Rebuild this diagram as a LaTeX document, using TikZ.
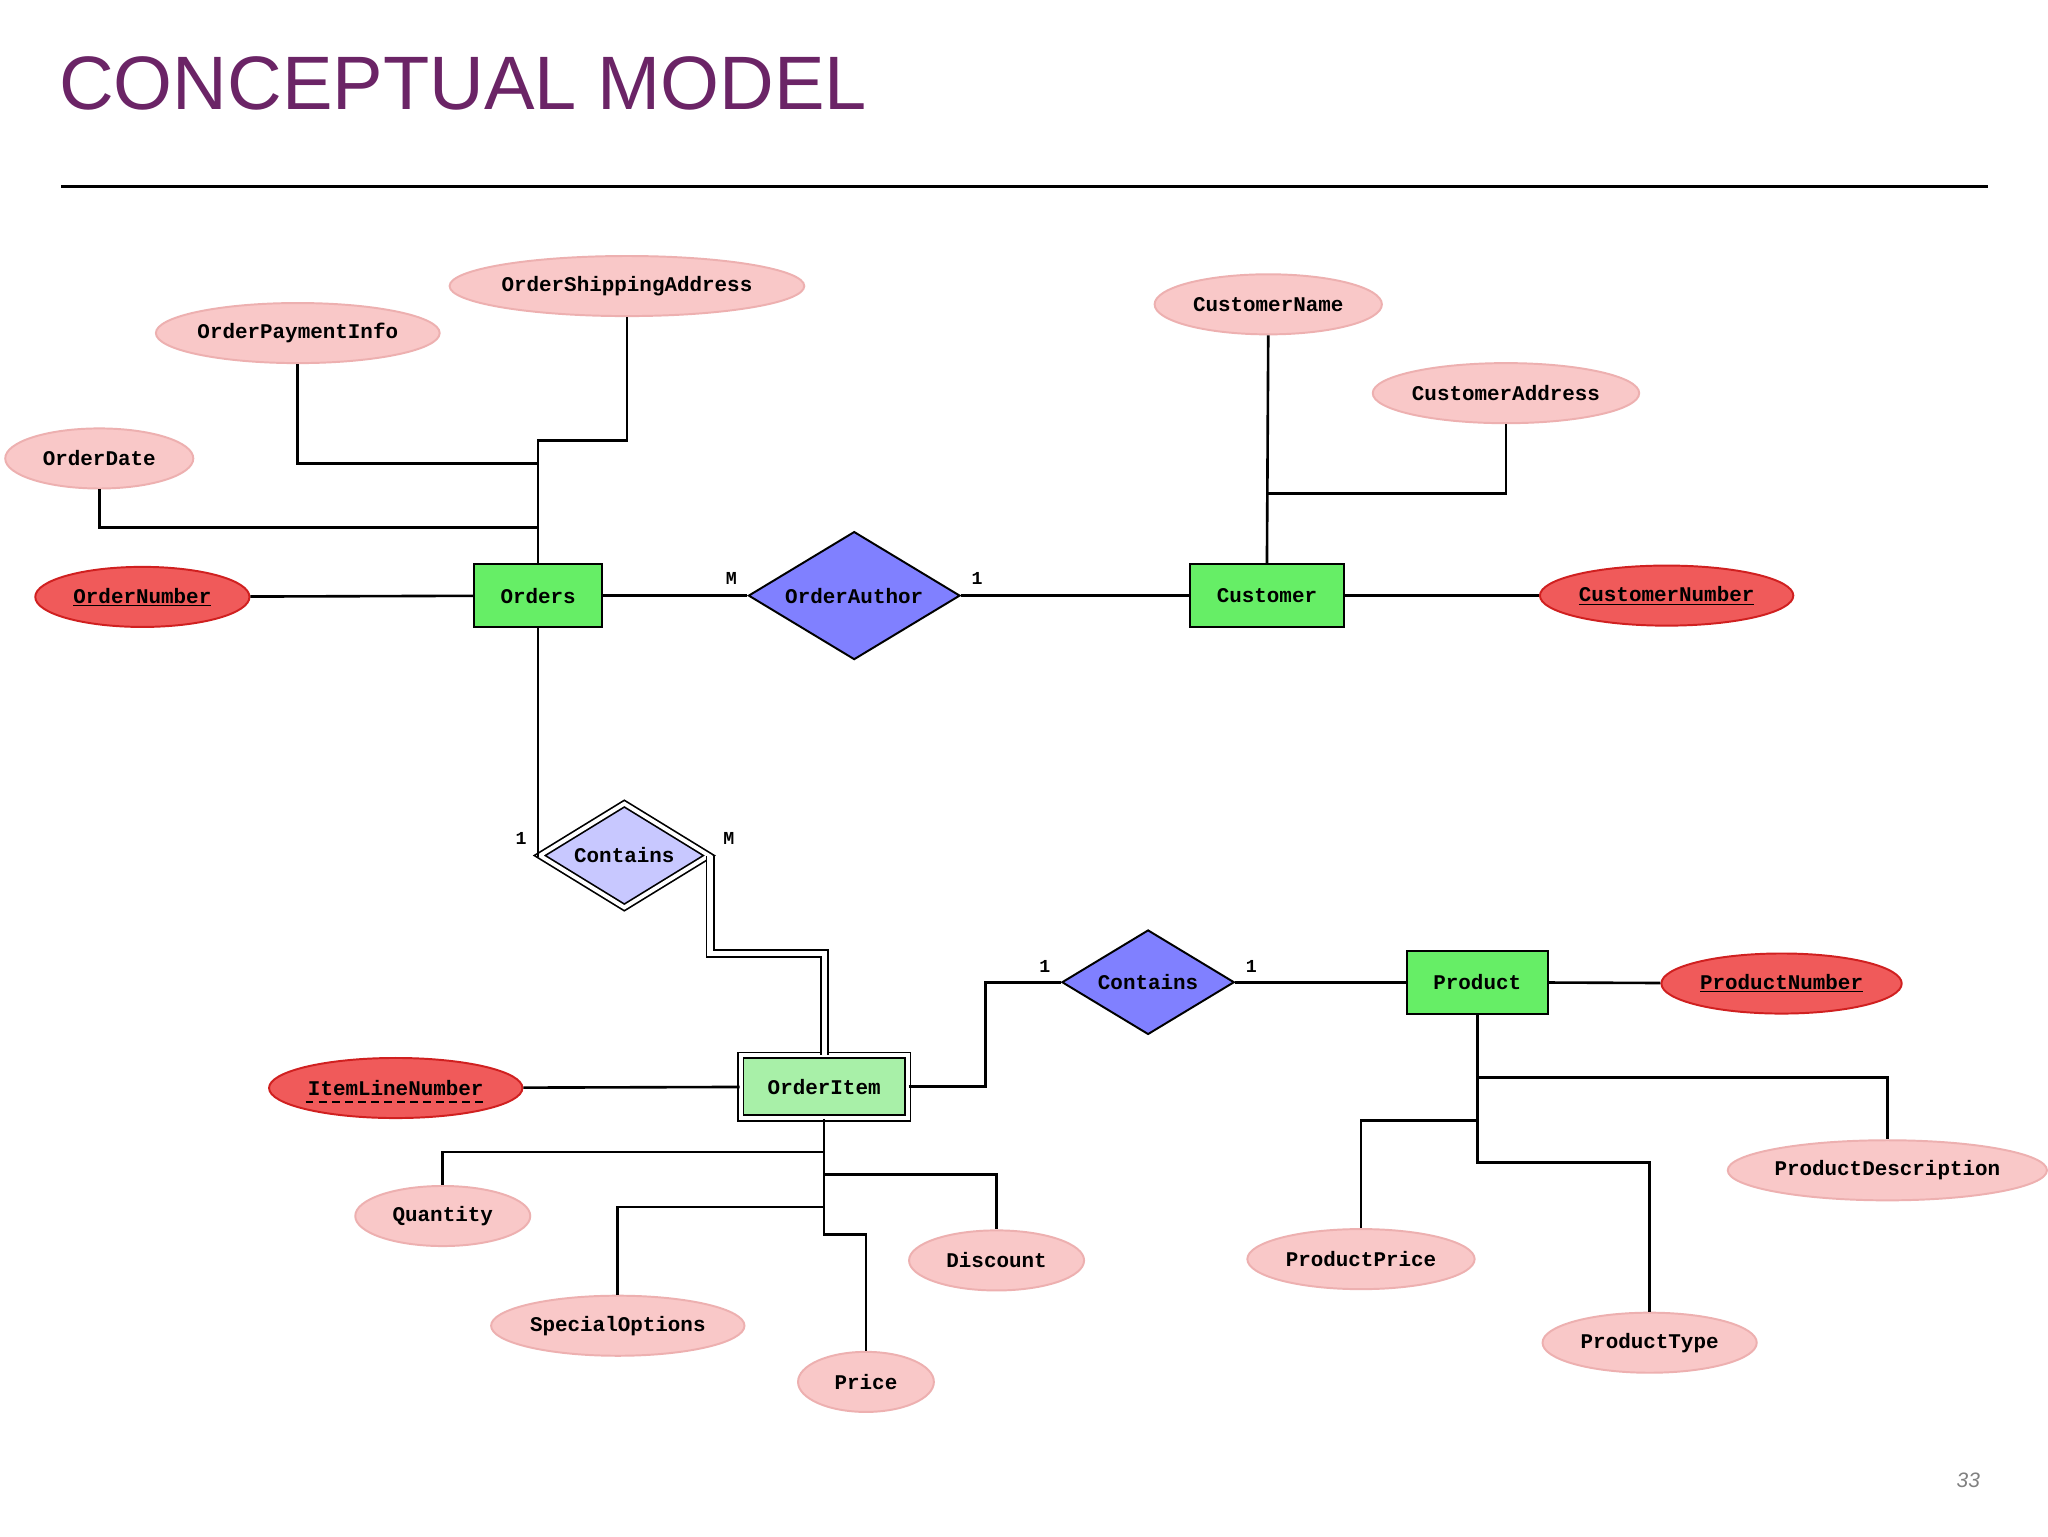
\documentclass[tikz,border=0pt]{standalone}
\usepackage{fontspec}
\setmainfont{Liberation Sans}
\newfontfamily\ermono{Liberation Mono}
\usetikzlibrary{shapes.geometric,calc}
\definecolor{titlecol}{HTML}{6B2466}
\definecolor{attrbg}{HTML}{F9C8C8}
\definecolor{attrln}{HTML}{EDB0B0}
\definecolor{keybg}{HTML}{F05A5A}
\definecolor{keyln}{HTML}{D02020}
\definecolor{entbg}{HTML}{66EE66}
\definecolor{weakent}{HTML}{A8F0A8}
\definecolor{relbg}{HTML}{8080FF}
\definecolor{weakrel}{HTML}{C8C8FF}
\tikzset{
  er/.style={font=\ermono\bfseries\fontsize{16}{18}\selectfont, inner sep=0pt},
  attr/.style={er, ellipse, fill=attrbg, draw=attrln, line width=1.5pt, minimum height=46pt},
  key/.style={er, ellipse, fill=keybg, draw=keyln, line width=1.5pt, minimum height=46pt},
  ent/.style={er, rectangle, fill=entbg, draw=black, line width=1.5pt, minimum height=48pt},
  rel/.style={er, diamond, fill=relbg, draw=black, line width=1.5pt, aspect=1.65},
  conn/.style={line width=2pt, black},
  card/.style={er, font=\ermono\bfseries\fontsize{14}{16}\selectfont}
}
\begin{document}
\begin{tikzpicture}[x=1pt,y=-1pt]
\useasboundingbox (0,0) rectangle (1568,1176);
\fill[white] (0,0) rectangle (1568,1176);
\node[anchor=base west, inner sep=0pt, text=titlecol, font=\fontsize{58}{60}\selectfont] (title) at (45,84) {CONCEPTUAL MODEL};
\draw[line width=2.5pt] (47,143) coordinate (r1) -- (1522,143) coordinate (r2);

% attributes
\node[attr, minimum width=254pt] (osa) at (480,219) {OrderShippingAddress};
\node[attr, minimum width=212pt] (opi) at (228,255) {OrderPaymentInfo};
\node[attr, minimum width=144pt] (od) at (76,351) {OrderDate};
\node[key, minimum width=164pt] (on) at (109,457) {\underline{OrderNumber}};
\node[attr, minimum width=174pt] (cn) at (971,233) {CustomerName};
\node[attr, minimum width=204pt] (ca) at (1153,301) {CustomerAddress};
\node[key, minimum width=194pt] (cnum) at (1276,456) {\underline{CustomerNumber}};
\node[key, minimum width=184pt] (pn) at (1364,753) {\underline{ProductNumber}};
\node[key, minimum width=194pt] (iln) at (303,833) {ItemLineNumber};
\draw[line width=1.5pt, dash pattern=on 6pt off 4pt] ($(iln.center)+(-69,11)$) coordinate (u1) -- ($(iln.center)+(69,11)$) coordinate (u2);
\node[attr, minimum width=134pt] (qty) at (339,931) {Quantity};
\node[attr, minimum width=194pt] (so) at (473,1015) {SpecialOptions};
\node[attr, minimum width=104pt] (pr) at (663,1058) {Price};
\node[attr, minimum width=134pt] (disc) at (763,965) {Discount};
\node[attr, minimum width=174pt] (pp) at (1042,964) {ProductPrice};
\node[attr, minimum width=164pt] (pt) at (1263,1028) {ProductType};
\node[attr, minimum width=234pt] (pd) at (1445,896) {ProductDescription};

% entities and relationships
\node[ent, minimum width=98pt] (orders) at (412,456) {Orders};
\node[ent, minimum width=118pt] (cust) at (970,456) {Customer};
\node[ent, minimum width=108pt] (prod) at (1131,752) {Product};
\node[ent, fill=weakent, minimum width=128pt, double, double distance=3pt, line width=1.3pt] (oi) at (631,832) {OrderItem};
\node[rel, minimum width=162pt, minimum height=98pt] (oa) at (654,456) {OrderAuthor};
\node[rel, fill=weakrel, minimum width=130pt, minimum height=80pt, double, double distance=3pt, line width=1.3pt] (c1) at (478,655) {Contains};
\node[rel, minimum width=132pt, minimum height=80pt] (c2) at (879,752) {Contains};

% connectors
\draw[conn] (orders.north) -- ++(0,-94) -| (osa.south);
\draw[conn] (opi.south) |- (412,355) coordinate (j1);
\draw[conn] (od.south) |- (412,404) coordinate (j2);
\draw[conn] (on) -- (orders);
\draw[conn] (orders) -- (oa);
\draw[conn] (oa) -- (cust);
\draw[conn] (cust) -- (cnum);
\draw[conn] (cn.south) -- (cust.north);
\draw[conn] (ca.south) |- (971,378) coordinate (j3);
\draw[conn] (orders.south) |- (c1.west);
\draw[conn, double, double distance=4pt, line width=1.5pt] (c1.east) |- (631,730) coordinate (j4) -- (oi.north);
\draw[conn] (oi.east) -- ++(59,0) |- (c2.west);
\draw[conn] (c2) -- (prod);
\draw[conn] (prod) -- (pn);
\draw[conn] (iln) -- (oi);
\draw[conn] (oi.south) |- (663,945) coordinate (j5) -- (pr.north);
\draw[conn] (631,882) coordinate (j6) -| (qty.north);
\draw[conn] (631,924) coordinate (j7) -| (so.north);
\draw[conn] (631,899) coordinate (j8) -| (disc.north);
\draw[conn] (prod.south) |- (1263,890) coordinate (j9) -- (pt.north);
\draw[conn] (1131,825) coordinate (j10) -| (pd.north);
\draw[conn] (1131,858) coordinate (j11) -| (pp.north);

% cardinalities
\node[card] (m1) at (560,443) {M};
\node[card] (n1) at (748,443) {1};
\node[card] (n2) at (399,642) {1};
\node[card] (m2) at (558,642) {M};
\node[card] (n3) at (800,740) {1};
\node[card] (n4) at (958,740) {1};

\node[text=gray, font=\itshape\fontsize{16}{18}\selectfont] (page) at (1507,1133) {33};
\end{tikzpicture}
\end{document}
